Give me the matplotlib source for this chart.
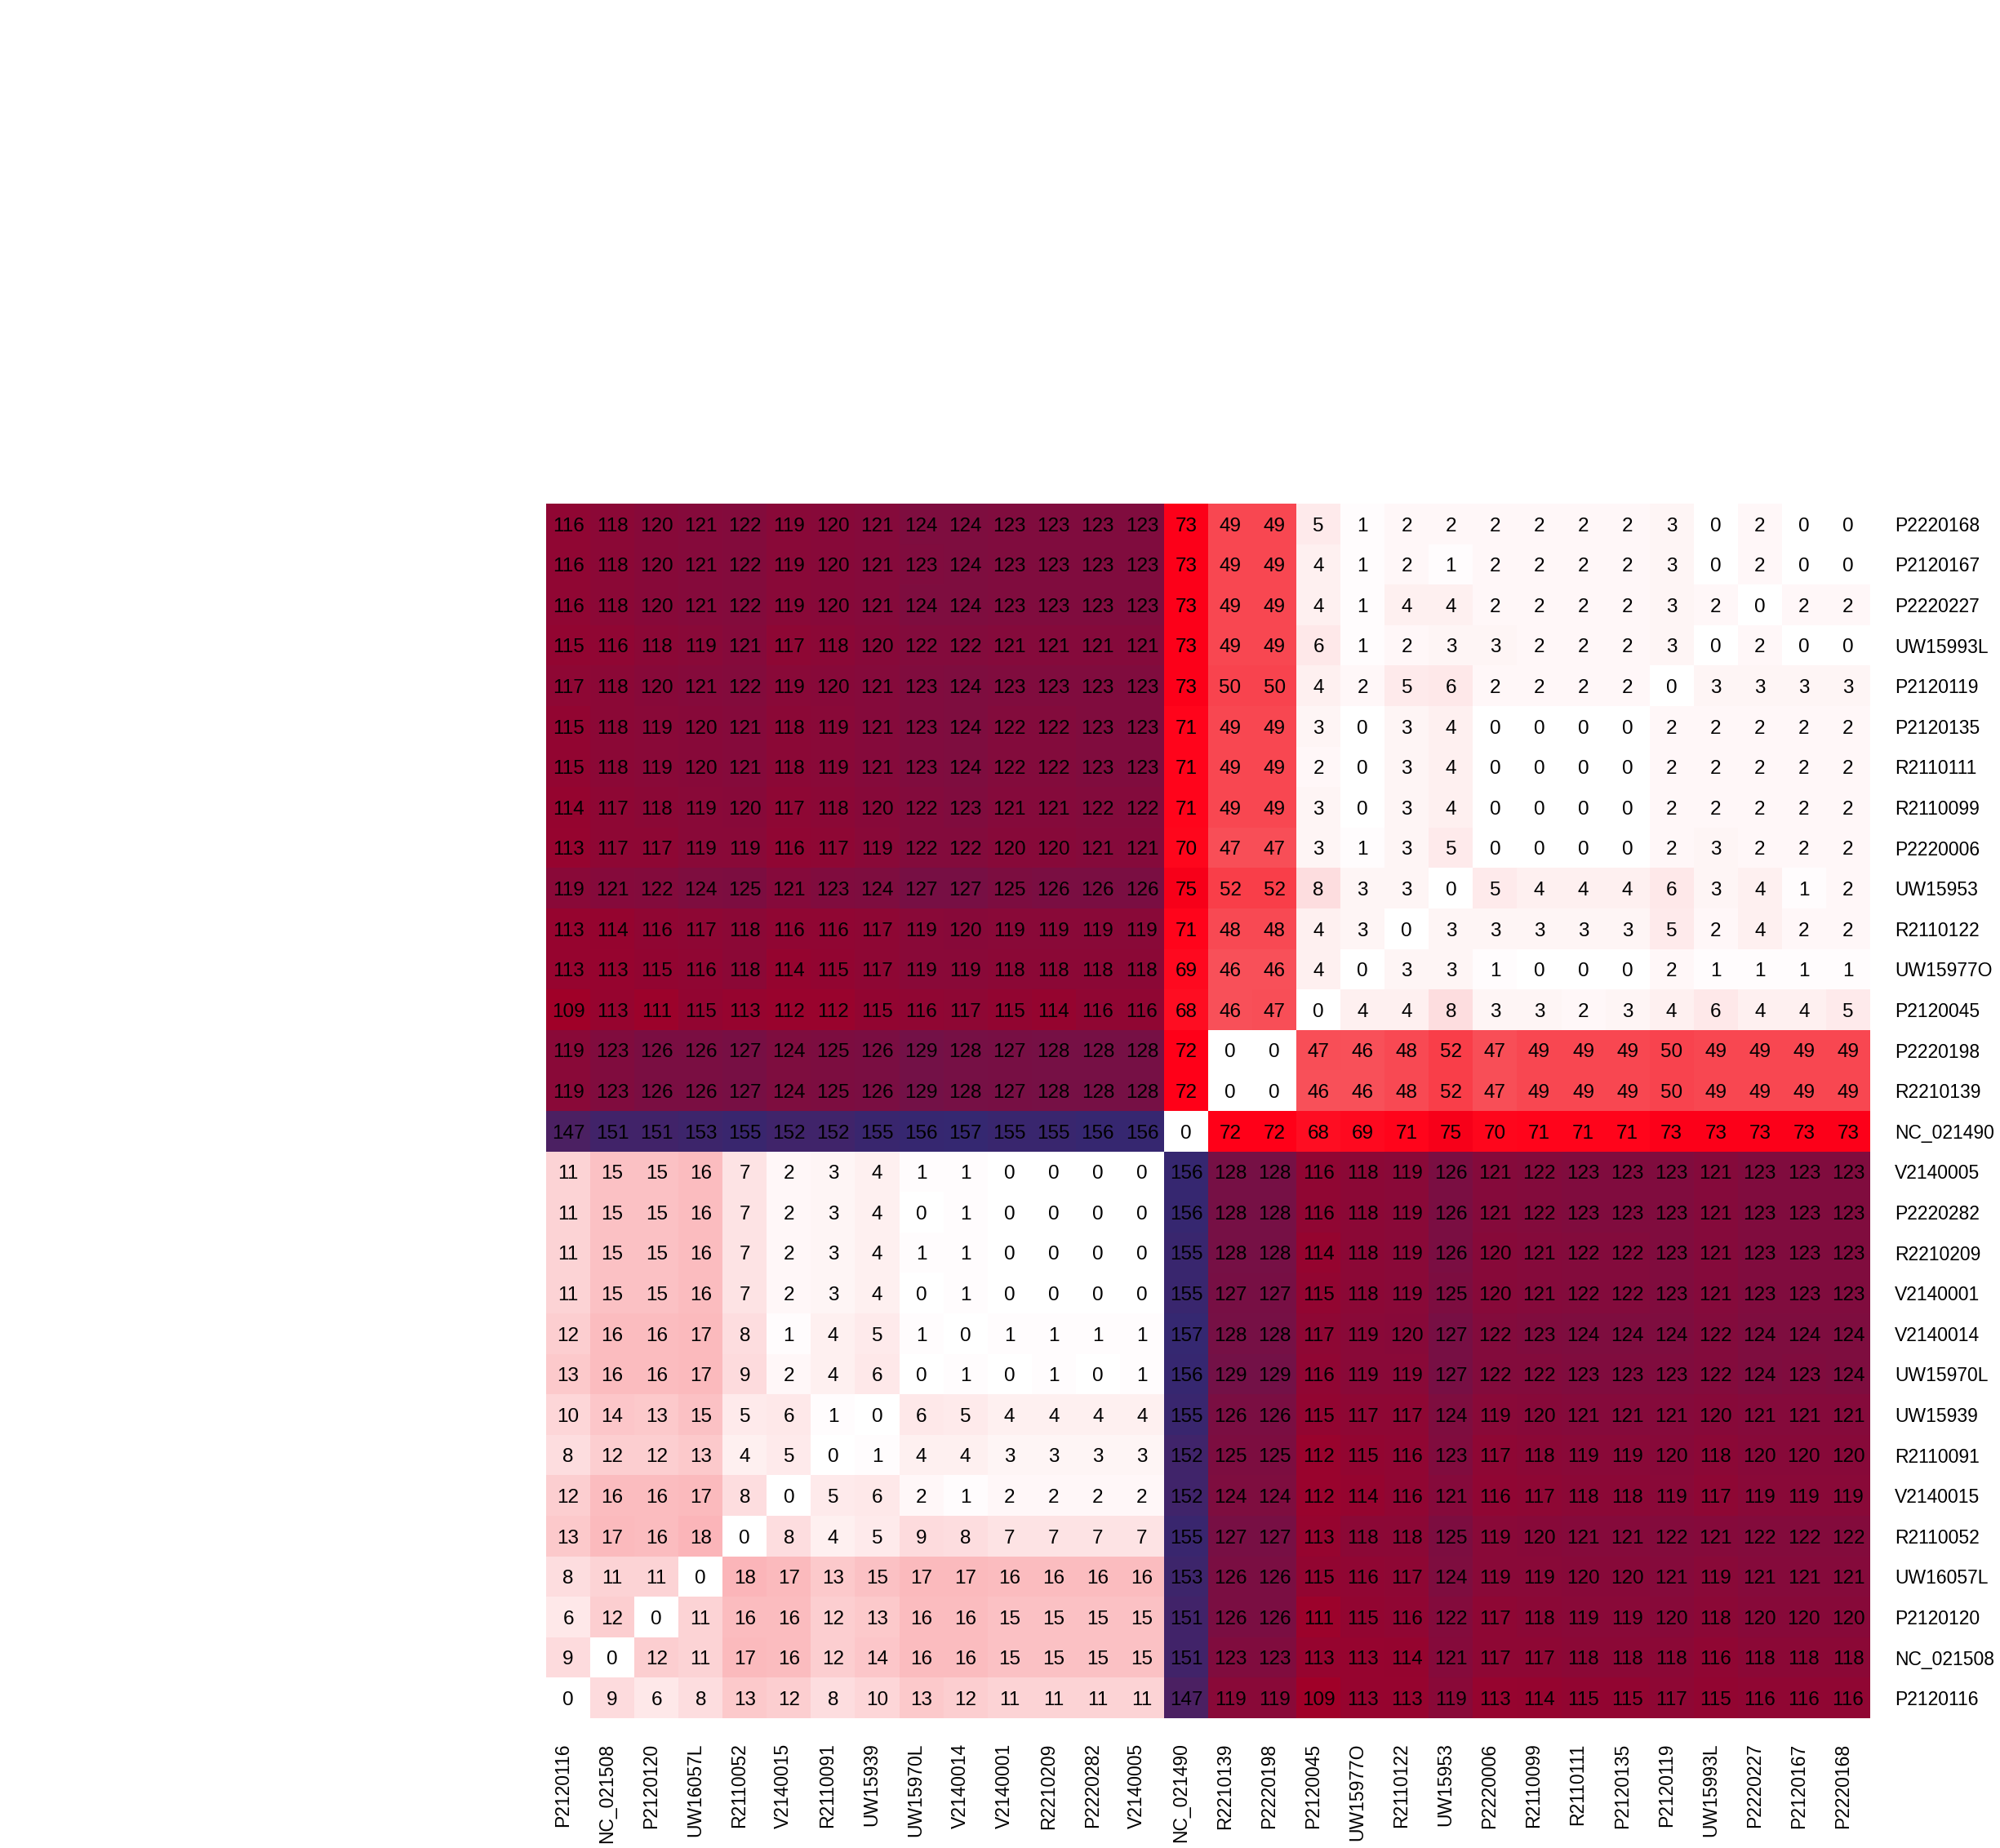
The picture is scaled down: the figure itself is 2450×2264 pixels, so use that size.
import numpy as np
import matplotlib
matplotlib.use("Agg")
import matplotlib.pyplot as plt
from matplotlib.colors import LinearSegmentedColormap
import matplotlib.transforms as mtransforms

# ---------------- data ----------------
col_labels = ["P2120116", "NC_021508", "P2120120", "UW16057L", "R2110052", "V2140015",
              "R2110091", "UW15939", "UW15970L", "V2140014", "V2140001", "R2210209",
              "P2220282", "V2140005", "NC_021490", "R2210139", "P2220198", "P2120045",
              "UW15977O", "R2110122", "UW15953", "P2220006", "R2110099", "R2110111",
              "P2120135", "P2120119", "UW15993L", "P2220227", "P2120167", "P2220168"]

row_labels = ["P2220168", "P2120167", "P2220227", "UW15993L", "P2120119", "P2120135",
              "R2110111", "R2110099", "P2220006", "UW15953", "R2110122", "UW15977O",
              "P2120045", "P2220198", "R2210139", "NC_021490", "V2140005", "P2220282",
              "R2210209", "V2140001", "V2140014", "UW15970L", "UW15939", "R2110091",
              "V2140015", "R2110052", "UW16057L", "P2120120", "NC_021508", "P2120116"]

row_P2220168 = [116, 118, 120, 121, 122, 119, 120, 121, 124, 124, 123, 123, 123, 123, 73, 49, 49, 5, 1, 2, 2, 2, 2, 2, 2, 3, 0, 2, 0, 0]
row_P2120167 = [116, 118, 120, 121, 122, 119, 120, 121, 123, 124, 123, 123, 123, 123, 73, 49, 49, 4, 1, 2, 1, 2, 2, 2, 2, 3, 0, 2, 0, 0]
row_P2220227 = [116, 118, 120, 121, 122, 119, 120, 121, 124, 124, 123, 123, 123, 123, 73, 49, 49, 4, 1, 4, 4, 2, 2, 2, 2, 3, 2, 0, 2, 2]
row_UW15993L = [115, 116, 118, 119, 121, 117, 118, 120, 122, 122, 121, 121, 121, 121, 73, 49, 49, 6, 1, 2, 3, 3, 2, 2, 2, 3, 0, 2, 0, 0]
row_P2120119 = [117, 118, 120, 121, 122, 119, 120, 121, 123, 124, 123, 123, 123, 123, 73, 50, 50, 4, 2, 5, 6, 2, 2, 2, 2, 0, 3, 3, 3, 3]
row_P2120135 = [115, 118, 119, 120, 121, 118, 119, 121, 123, 124, 122, 122, 123, 123, 71, 49, 49, 3, 0, 3, 4, 0, 0, 0, 0, 2, 2, 2, 2, 2]
row_R2110111 = [115, 118, 119, 120, 121, 118, 119, 121, 123, 124, 122, 122, 123, 123, 71, 49, 49, 2, 0, 3, 4, 0, 0, 0, 0, 2, 2, 2, 2, 2]
row_R2110099 = [114, 117, 118, 119, 120, 117, 118, 120, 122, 123, 121, 121, 122, 122, 71, 49, 49, 3, 0, 3, 4, 0, 0, 0, 0, 2, 2, 2, 2, 2]
row_P2220006 = [113, 117, 117, 119, 119, 116, 117, 119, 122, 122, 120, 120, 121, 121, 70, 47, 47, 3, 1, 3, 5, 0, 0, 0, 0, 2, 3, 2, 2, 2]
row_UW15953 = [119, 121, 122, 124, 125, 121, 123, 124, 127, 127, 125, 126, 126, 126, 75, 52, 52, 8, 3, 3, 0, 5, 4, 4, 4, 6, 3, 4, 1, 2]
row_R2110122 = [113, 114, 116, 117, 118, 116, 116, 117, 119, 120, 119, 119, 119, 119, 71, 48, 48, 4, 3, 0, 3, 3, 3, 3, 3, 5, 2, 4, 2, 2]
row_UW15977O = [113, 113, 115, 116, 118, 114, 115, 117, 119, 119, 118, 118, 118, 118, 69, 46, 46, 4, 0, 3, 3, 1, 0, 0, 0, 2, 1, 1, 1, 1]
row_P2120045 = [109, 113, 111, 115, 113, 112, 112, 115, 116, 117, 115, 114, 116, 116, 68, 46, 47, 0, 4, 4, 8, 3, 3, 2, 3, 4, 6, 4, 4, 5]
row_P2220198 = [119, 123, 126, 126, 127, 124, 125, 126, 129, 128, 127, 128, 128, 128, 72, 0, 0, 47, 46, 48, 52, 47, 49, 49, 49, 50, 49, 49, 49, 49]
row_R2210139 = [119, 123, 126, 126, 127, 124, 125, 126, 129, 128, 127, 128, 128, 128, 72, 0, 0, 46, 46, 48, 52, 47, 49, 49, 49, 50, 49, 49, 49, 49]
row_NC_021490 = [147, 151, 151, 153, 155, 152, 152, 155, 156, 157, 155, 155, 156, 156, 0, 72, 72, 68, 69, 71, 75, 70, 71, 71, 71, 73, 73, 73, 73, 73]
row_V2140005 = [11, 15, 15, 16, 7, 2, 3, 4, 1, 1, 0, 0, 0, 0, 156, 128, 128, 116, 118, 119, 126, 121, 122, 123, 123, 123, 121, 123, 123, 123]
row_P2220282 = [11, 15, 15, 16, 7, 2, 3, 4, 0, 1, 0, 0, 0, 0, 156, 128, 128, 116, 118, 119, 126, 121, 122, 123, 123, 123, 121, 123, 123, 123]
row_R2210209 = [11, 15, 15, 16, 7, 2, 3, 4, 1, 1, 0, 0, 0, 0, 155, 128, 128, 114, 118, 119, 126, 120, 121, 122, 122, 123, 121, 123, 123, 123]
row_V2140001 = [11, 15, 15, 16, 7, 2, 3, 4, 0, 1, 0, 0, 0, 0, 155, 127, 127, 115, 118, 119, 125, 120, 121, 122, 122, 123, 121, 123, 123, 123]
row_V2140014 = [12, 16, 16, 17, 8, 1, 4, 5, 1, 0, 1, 1, 1, 1, 157, 128, 128, 117, 119, 120, 127, 122, 123, 124, 124, 124, 122, 124, 124, 124]
row_UW15970L = [13, 16, 16, 17, 9, 2, 4, 6, 0, 1, 0, 1, 0, 1, 156, 129, 129, 116, 119, 119, 127, 122, 122, 123, 123, 123, 122, 124, 123, 124]
row_UW15939 = [10, 14, 13, 15, 5, 6, 1, 0, 6, 5, 4, 4, 4, 4, 155, 126, 126, 115, 117, 117, 124, 119, 120, 121, 121, 121, 120, 121, 121, 121]
row_R2110091 = [8, 12, 12, 13, 4, 5, 0, 1, 4, 4, 3, 3, 3, 3, 152, 125, 125, 112, 115, 116, 123, 117, 118, 119, 119, 120, 118, 120, 120, 120]
row_V2140015 = [12, 16, 16, 17, 8, 0, 5, 6, 2, 1, 2, 2, 2, 2, 152, 124, 124, 112, 114, 116, 121, 116, 117, 118, 118, 119, 117, 119, 119, 119]
row_R2110052 = [13, 17, 16, 18, 0, 8, 4, 5, 9, 8, 7, 7, 7, 7, 155, 127, 127, 113, 118, 118, 125, 119, 120, 121, 121, 122, 121, 122, 122, 122]
row_UW16057L = [8, 11, 11, 0, 18, 17, 13, 15, 17, 17, 16, 16, 16, 16, 153, 126, 126, 115, 116, 117, 124, 119, 119, 120, 120, 121, 119, 121, 121, 121]
row_P2120120 = [6, 12, 0, 11, 16, 16, 12, 13, 16, 16, 15, 15, 15, 15, 151, 126, 126, 111, 115, 116, 122, 117, 118, 119, 119, 120, 118, 120, 120, 120]
row_NC_021508 = [9, 0, 12, 11, 17, 16, 12, 14, 16, 16, 15, 15, 15, 15, 151, 123, 123, 113, 113, 114, 121, 117, 117, 118, 118, 118, 116, 118, 118, 118]
row_P2120116 = [0, 9, 6, 8, 13, 12, 8, 10, 13, 12, 11, 11, 11, 11, 147, 119, 119, 109, 113, 113, 119, 113, 114, 115, 115, 117, 115, 116, 116, 116]

values = np.array([
    row_P2220168, row_P2120167, row_P2220227, row_UW15993L, row_P2120119, row_P2120135,
    row_R2110111, row_R2110099, row_P2220006, row_UW15953, row_R2110122, row_UW15977O,
    row_P2120045, row_P2220198, row_R2210139, row_NC_021490, row_V2140005, row_P2220282,
    row_R2210209, row_V2140001, row_V2140014, row_UW15970L, row_UW15939, row_R2110091,
    row_V2140015, row_R2110052, row_UW16057L, row_P2120120, row_NC_021508, row_P2120116,
])

# ---------------- figure ----------------
W, H, DPI = 2450, 2264, 100
plt.rcParams['font.family'] = ['Liberation Sans', 'DejaVu Sans']
fig = plt.figure(figsize=(W / DPI, H / DPI), dpi=DPI)
fig.patch.set_facecolor('white')

left, right, top, bottom = 669, 2291, 617, 2105
ax = fig.add_axes([left / W, 1 - bottom / H, (right - left) / W, (bottom - top) / H])

vmin, vmax = 0, 157
nodes = [(0, '#FFFFFF'), (16, '#FBBCBF'), (49, '#F84650'), (72, '#FF0018'),
         (109, '#A00028'), (157, '#352871')]
cmap = LinearSegmentedColormap.from_list('dist', [(v / vmax, c) for v, c in nodes])

nr, nc = values.shape
ax.pcolormesh(np.arange(nc + 1), np.arange(nr + 1), values, cmap=cmap,
              vmin=vmin, vmax=vmax, linewidth=0, antialiased=False)
ax.set_xlim(0, nc)
ax.set_ylim(nr, 0)

# annotations
cell_h_px = (bottom - top) / nr
cell_fs = 17.5
cap_off = 0.358 * cell_fs * DPI / 72 / cell_h_px
for i in range(nr):
    for j in range(nc):
        ax.text(j + 0.5, i + 0.5 + cap_off, str(values[i, j]), ha='center', va='baseline',
                fontsize=cell_fs, color='black')

for s in ax.spines.values():
    s.set_visible(False)

# row labels on the right
ax.yaxis.tick_right()
ax.set_yticks(np.arange(nr) + 0.5)
ax.set_yticklabels(row_labels, fontsize=16.5)
ax.tick_params(axis='y', length=0, pad=21.5)

# column labels at the bottom
ax.set_xticks(np.arange(nc) + 0.5)
ax.set_xticklabels(col_labels, fontsize=16.5, rotation=90)
ax.tick_params(axis='x', length=0, pad=22)
shift = mtransforms.ScaledTranslation(-6.5 / DPI, 0, fig.dpi_scale_trans)
for lab in ax.get_xticklabels():
    lab.set_transform(lab.get_transform() + shift)

fig.savefig('out.png', dpi=DPI, facecolor='white')
